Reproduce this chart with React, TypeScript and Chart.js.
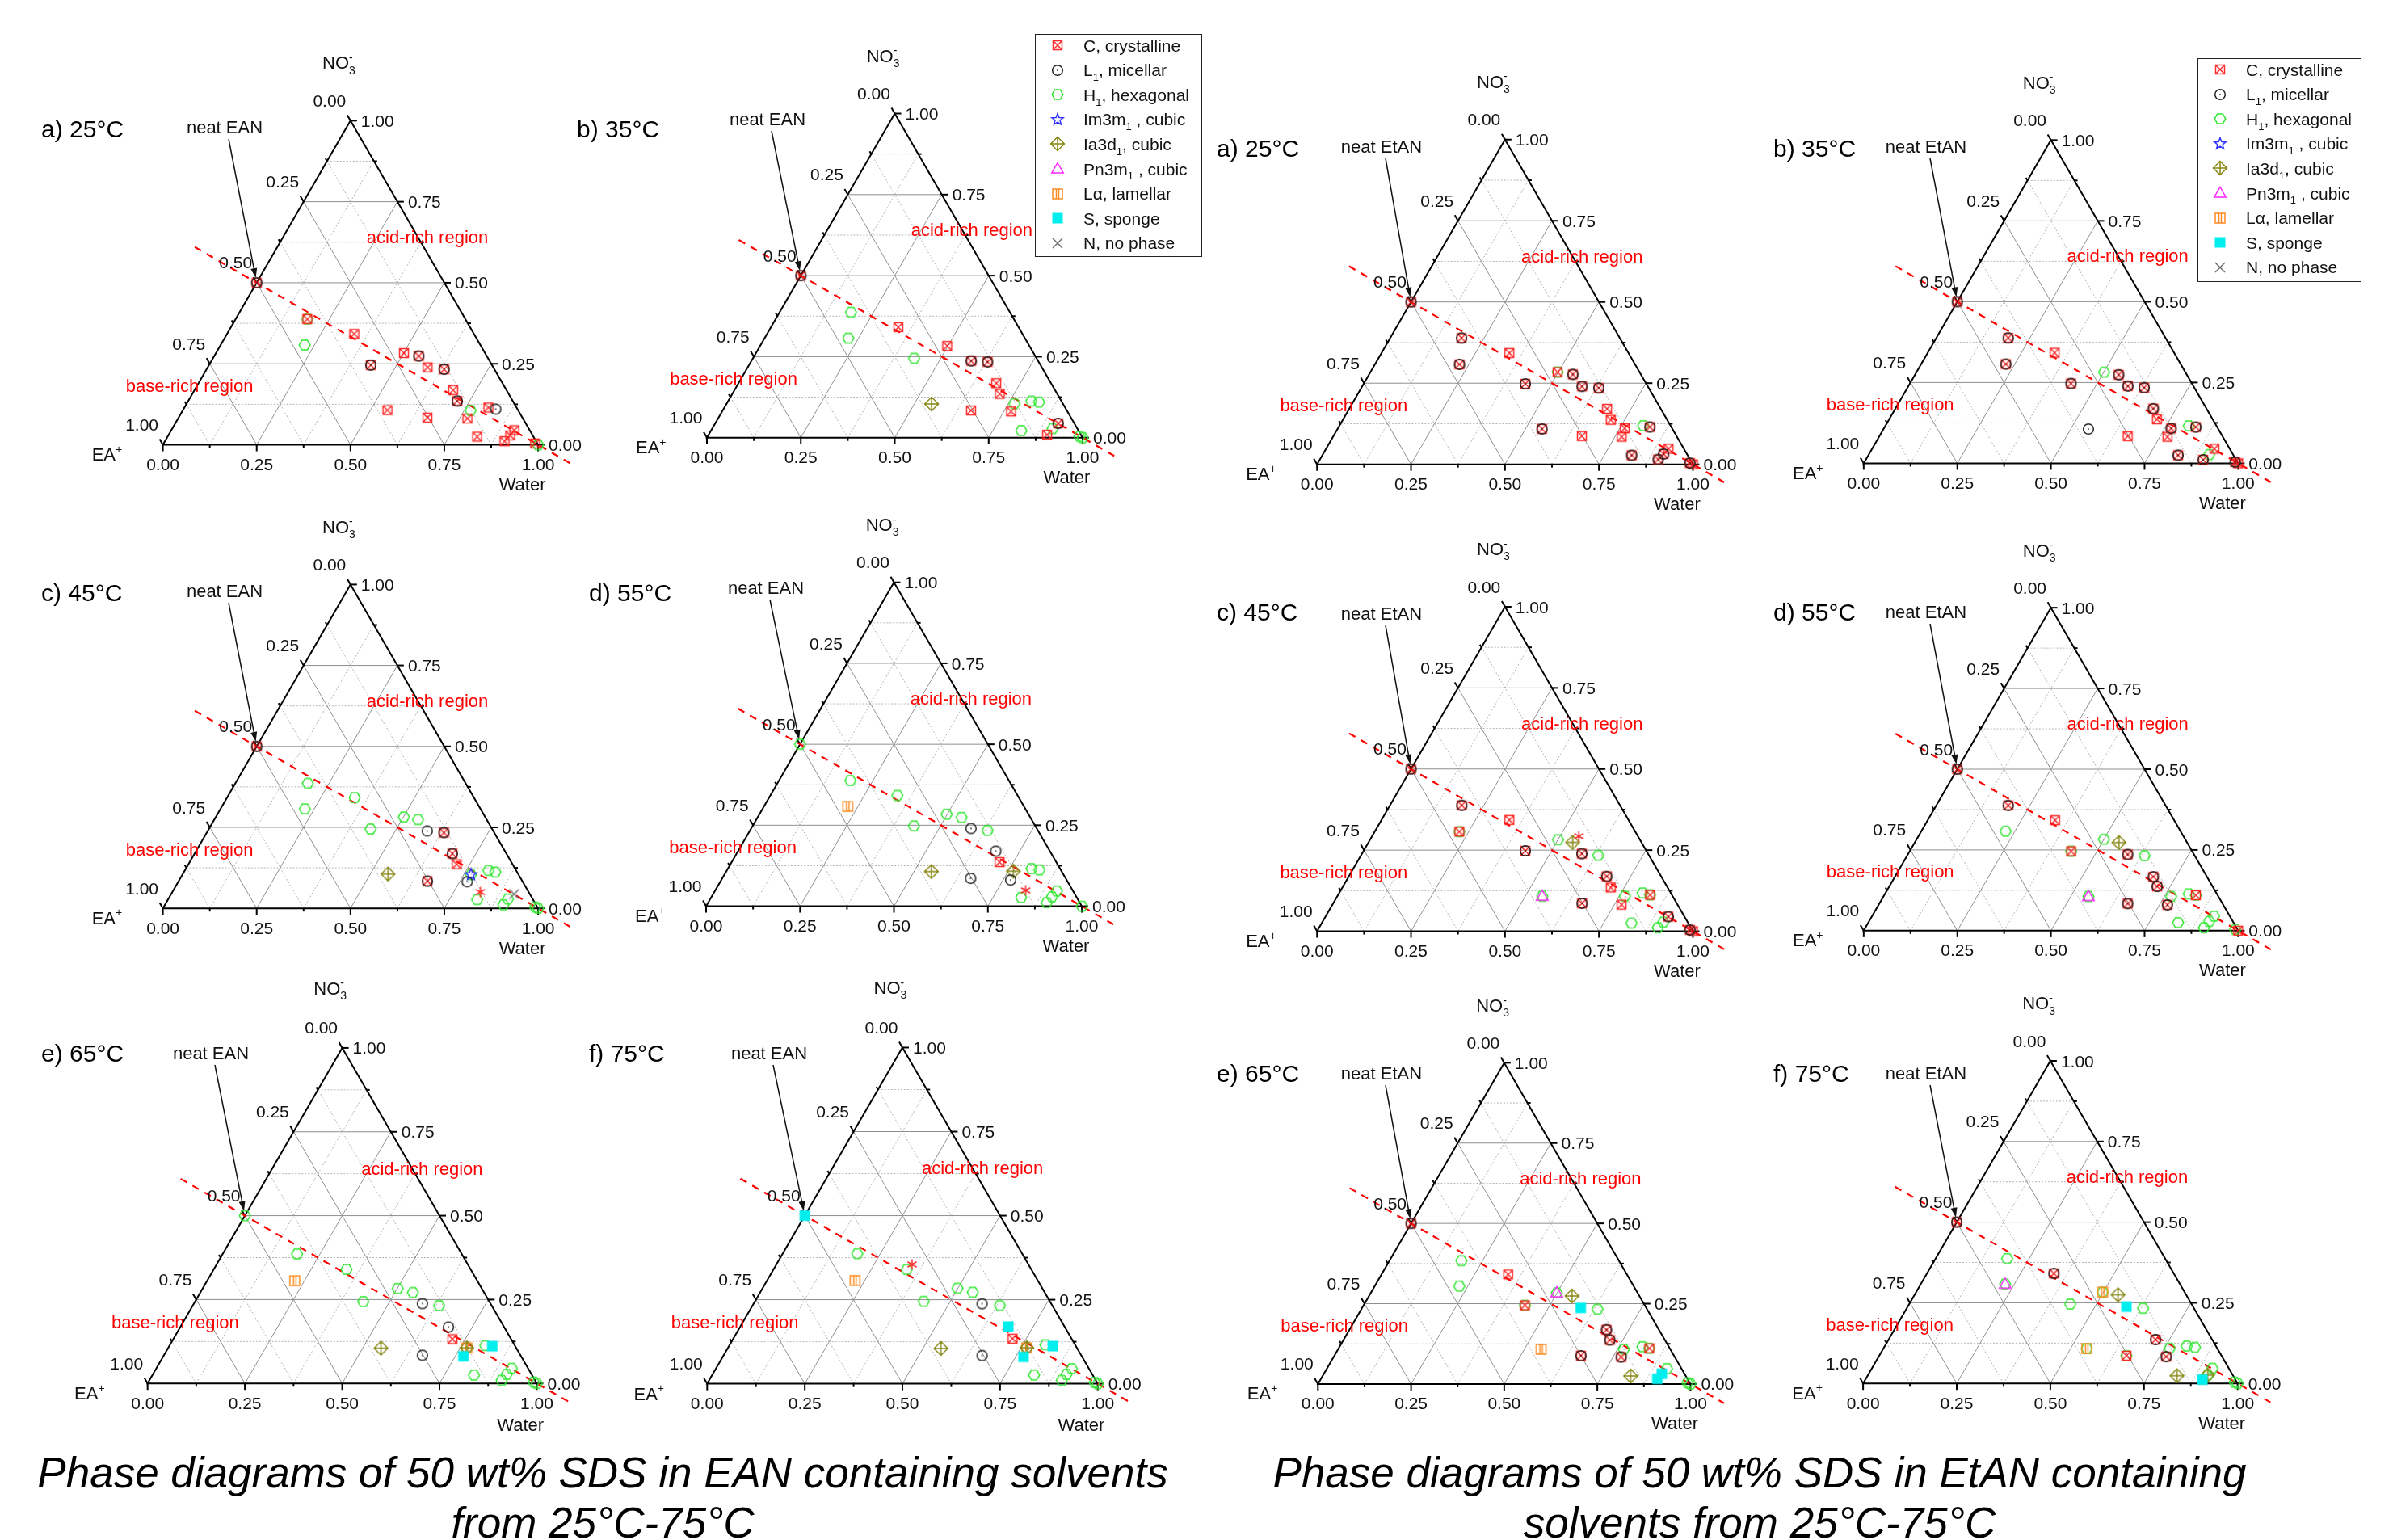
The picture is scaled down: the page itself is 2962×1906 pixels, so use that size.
import React, { useEffect, useRef } from "react";
import { Chart, registerables } from "chart.js";
Chart.register(...registerables);

// [phases present, water fraction, NO3- fraction]; EA+ = 1 - water - NO3-
// C crystalline, L L1 micellar, H H1 hexagonal, I Im3m1, D Ia3d1, P Pn3m1, A L-alpha, S sponge, N no phase, X asterisk
type Pt = [string, number, number];

const EAN_25: Pt[] = [
  ["CL", 0, 0.5], ["CH", 0.191, 0.388], ["H", 0.224, 0.308], ["C", 0.339, 0.342], ["CL", 0.431, 0.246],
  ["C", 0.501, 0.283], ["CL", 0.545, 0.274], ["C", 0.586, 0.239], ["CL", 0.633, 0.233], ["C", 0.689, 0.169],
  ["CL", 0.717, 0.135], ["C", 0.545, 0.107], ["C", 0.663, 0.084], ["H", 0.767, 0.106], ["C", 0.771, 0.081],
  ["C", 0.81, 0.115], ["L", 0.832, 0.11], ["C", 0.825, 0.025], ["C", 0.914, 0.045], ["C", 0.911, 0.029],
  ["C", 0.905, 0.011], ["C", 0.99, 0.004], ["H", 1.0, 0.0],
];
const EAN_35: Pt[] = [
  ["CL", 0, 0.5], ["H", 0.19, 0.387], ["H", 0.223, 0.307], ["C", 0.339, 0.341], ["C", 0.498, 0.283],
  ["H", 0.429, 0.245], ["CL", 0.585, 0.237], ["CL", 0.63, 0.234], ["C", 0.686, 0.168], ["C", 0.712, 0.135],
  ["D", 0.546, 0.104], ["C", 0.661, 0.084], ["H", 0.766, 0.105], ["C", 0.769, 0.081], ["H", 0.807, 0.113],
  ["H", 0.829, 0.11], ["H", 0.826, 0.022], ["CL", 0.913, 0.044], ["H", 0.906, 0.028], ["C", 0.901, 0.009],
  ["H", 0.99, 0.004], ["H", 1.0, 0.0],
];
const EAN_45: Pt[] = [
  ["CL", 0, 0.5], ["H", 0.193, 0.386], ["H", 0.225, 0.307], ["H", 0.34, 0.342], ["H", 0.431, 0.245],
  ["H", 0.501, 0.282], ["H", 0.543, 0.274], ["L", 0.585, 0.239], ["CL", 0.632, 0.234], ["CL", 0.687, 0.169],
  ["C", 0.715, 0.136], ["D", 0.547, 0.106], ["CL", 0.663, 0.084], ["IH", 0.769, 0.104], ["L", 0.77, 0.082],
  ["X", 0.821, 0.05], ["H", 0.824, 0.027], ["H", 0.809, 0.117], ["H", 0.83, 0.112], ["N", 0.914, 0.044],
  ["H", 0.905, 0.029], ["H", 0.902, 0.011], ["H", 0.99, 0.004], ["H", 1.0, 0.0],
];
const EAN_55: Pt[] = [
  ["H", 0, 0.5], ["H", 0.19, 0.388], ["A", 0.223, 0.308], ["H", 0.338, 0.342], ["H", 0.429, 0.248],
  ["H", 0.498, 0.284], ["H", 0.543, 0.274], ["L", 0.585, 0.24], ["H", 0.632, 0.234], ["L", 0.686, 0.17],
  ["C", 0.713, 0.136], ["D", 0.546, 0.107], ["L", 0.661, 0.086], ["D", 0.764, 0.108], ["L", 0.77, 0.081],
  ["X", 0.826, 0.049], ["H", 0.825, 0.027], ["H", 0.808, 0.116], ["H", 0.831, 0.112], ["H", 0.91, 0.047],
  ["H", 0.906, 0.029], ["H", 0.901, 0.011], ["H", 1.0, 0.0],
];
const EAN_65: Pt[] = [
  ["H", 0, 0.5], ["H", 0.191, 0.386], ["A", 0.225, 0.306], ["H", 0.341, 0.34], ["H", 0.432, 0.244],
  ["H", 0.501, 0.283], ["H", 0.546, 0.271], ["L", 0.587, 0.238], ["H", 0.633, 0.232], ["L", 0.689, 0.168],
  ["C", 0.717, 0.132], ["D", 0.547, 0.105], ["L", 0.664, 0.084], ["AD", 0.767, 0.106], ["S", 0.771, 0.081],
  ["H", 0.811, 0.113], ["S", 0.83, 0.111], ["H", 0.826, 0.025], ["H", 0.913, 0.045], ["H", 0.909, 0.027],
  ["H", 0.905, 0.009], ["H", 0.99, 0.004], ["H", 1.0, 0.0],
];
const EAN_75: Pt[] = [
  ["S", 0, 0.5], ["H", 0.191, 0.387], ["A", 0.225, 0.307], ["H", 0.341, 0.34], ["X", 0.347, 0.355],
  ["H", 0.432, 0.245], ["H", 0.499, 0.284], ["H", 0.544, 0.272], ["L", 0.585, 0.238], ["H", 0.633, 0.233],
  ["S", 0.686, 0.17], ["C", 0.715, 0.134], ["D", 0.546, 0.105], ["L", 0.662, 0.084], ["AD", 0.765, 0.107],
  ["S", 0.77, 0.08], ["H", 0.808, 0.116], ["S", 0.829, 0.112], ["H", 0.824, 0.026], ["H", 0.911, 0.045],
  ["H", 0.906, 0.028], ["H", 0.903, 0.01], ["H", 0.99, 0.004], ["H", 1.0, 0.0],
];
const EtAN_25: Pt[] = [
  ["CL", 0, 0.5], ["CL", 0.19, 0.389], ["CL", 0.225, 0.308], ["C", 0.34, 0.343], ["CH", 0.498, 0.284],
  ["CL", 0.542, 0.277], ["CL", 0.43, 0.248], ["CL", 0.585, 0.24], ["CL", 0.632, 0.235], ["C", 0.686, 0.171],
  ["C", 0.713, 0.137], ["CL", 0.544, 0.109], ["C", 0.661, 0.087], ["C", 0.763, 0.111], ["C", 0.768, 0.085],
  ["H", 0.808, 0.119], ["CL", 0.828, 0.115], ["CL", 0.823, 0.028], ["C", 0.911, 0.048], ["CL", 0.906, 0.032],
  ["CL", 0.9, 0.015], ["CL", 0.99, 0.004], ["C", 1.0, 0.0],
];
const EtAN_35: Pt[] = [
  ["CL", 0, 0.5], ["CL", 0.192, 0.388], ["CL", 0.226, 0.307], ["C", 0.339, 0.342], ["H", 0.501, 0.282],
  ["CL", 0.544, 0.274], ["CL", 0.43, 0.247], ["CL", 0.586, 0.239], ["CL", 0.632, 0.234], ["CL", 0.689, 0.169],
  ["C", 0.715, 0.136], ["L", 0.547, 0.106], ["C", 0.663, 0.084], ["CL", 0.767, 0.108], ["C", 0.77, 0.082],
  ["H", 0.81, 0.116], ["CL", 0.831, 0.112], ["CL", 0.827, 0.025], ["C", 0.914, 0.045], ["H", 0.909, 0.027],
  ["CL", 0.901, 0.011], ["CL", 0.99, 0.004], ["C", 1.0, 0.0],
];
const EtAN_45: Pt[] = [
  ["CL", 0, 0.5], ["CL", 0.191, 0.388], ["CH", 0.225, 0.307], ["C", 0.34, 0.343], ["H", 0.5, 0.282],
  ["D", 0.543, 0.274], ["X", 0.55, 0.293], ["CL", 0.43, 0.248], ["CL", 0.585, 0.239], ["H", 0.631, 0.234],
  ["CL", 0.686, 0.169], ["C", 0.714, 0.135], ["PH", 0.545, 0.108], ["CL", 0.662, 0.086], ["H", 0.765, 0.108],
  ["C", 0.769, 0.082], ["H", 0.807, 0.118], ["CH", 0.83, 0.112], ["H", 0.824, 0.025], ["CL", 0.912, 0.045],
  ["H", 0.907, 0.028], ["H", 0.901, 0.011], ["CL", 0.99, 0.004], ["C", 1.0, 0.0],
];
const EtAN_55: Pt[] = [
  ["CL", 0, 0.5], ["CL", 0.192, 0.388], ["H", 0.225, 0.308], ["C", 0.34, 0.342], ["H", 0.5, 0.283],
  ["D", 0.545, 0.273], ["CH", 0.431, 0.246], ["CL", 0.587, 0.236], ["H", 0.634, 0.232], ["CL", 0.69, 0.167],
  ["CL", 0.715, 0.137], ["PH", 0.547, 0.106], ["CL", 0.663, 0.084], ["H", 0.768, 0.106], ["CL", 0.771, 0.08],
  ["H", 0.811, 0.114], ["CH", 0.832, 0.11], ["H", 0.827, 0.025], ["H", 0.913, 0.045], ["H", 0.908, 0.029],
  ["H", 0.904, 0.009], ["H", 0.99, 0.004], ["C", 1.0, 0.0],
];
const EtAN_65: Pt[] = [
  ["CL", 0, 0.5], ["H", 0.193, 0.384], ["H", 0.227, 0.305], ["C", 0.34, 0.341], ["PH", 0.499, 0.284],
  ["D", 0.545, 0.274], ["CH", 0.433, 0.245], ["S", 0.587, 0.237], ["H", 0.634, 0.233], ["CL", 0.69, 0.169],
  ["CL", 0.715, 0.137], ["A", 0.545, 0.108], ["CL", 0.662, 0.088], ["H", 0.767, 0.108], ["CL", 0.772, 0.084],
  ["H", 0.813, 0.116], ["CH", 0.834, 0.111], ["D", 0.827, 0.025], ["H", 0.913, 0.048], ["S", 0.907, 0.032],
  ["S", 0.903, 0.016], ["H", 0.99, 0.004], ["H", 1.0, 0.0],
];
const EtAN_75: Pt[] = [
  ["CL", 0, 0.5], ["H", 0.191, 0.387], ["PH", 0.225, 0.308], ["CL", 0.339, 0.341], ["AH", 0.498, 0.283],
  ["D", 0.543, 0.275], ["H", 0.43, 0.246], ["S", 0.584, 0.238], ["H", 0.631, 0.233], ["CL", 0.713, 0.136],
  ["AH", 0.543, 0.108], ["CH", 0.66, 0.086], ["H", 0.764, 0.109], ["CL", 0.768, 0.083], ["H", 0.806, 0.116],
  ["H", 0.83, 0.112], ["D", 0.826, 0.024], ["H", 0.909, 0.047], ["DH", 0.907, 0.026], ["S", 0.9, 0.012],
  ["H", 0.99, 0.004], ["H", 1.0, 0.0],
];

// water / NO3- composition of the dilution line from neat ionic liquid to water (extended)
const DILUTION_LINE: [number, number][] = [[-0.22, 0.61], [1.12, -0.06]];
const TICK_STEPS = [0, 1, 2, 3, 4, 5, 6, 7, 8];
const TICK_LABELS: Record<number, string> = { 0: "0.00", 2: "0.25", 4: "0.50", 6: "0.75", 8: "1.00" };
const LEGEND_CODES = ["C", "L", "H", "I", "D", "P", "A", "S", "N"];
const LEGEND_TEXT = [
  "C, crystalline", "L_1, micellar", "H_1, hexagonal", "Im3m_1 , cubic", "Ia3d_1, cubic",
  "Pn3m_1 , cubic", "Lα, lamellar", "S, sponge", "N, no phase",
];
const DRAW_ORDER = ["X", "N", "L", "C", "S", "I", "P", "D", "A", "H"];

const FONT = '"Liberation Sans", Arial, Helvetica, sans-serif';
const SQ3 = Math.sqrt(3) / 2;

type Panel = {
  id: string; data: Pt[]; title: string; neat: string;
  rect: [number, number, number, number];
  tri: [number, number, number];
  titleAt: [number, number]; neatAt: [number, number];
  legend?: [number, number, number, number];
};

const PANELS: Panel[] = [
  { id: "LA", data: EAN_25, title: "a) 25°C", neat: "neat EAN", rect: [0, 0, 750, 660], tri: [198.3, 555.3, 473.3], titleAt: [51, 159], neatAt: [278, 157] },
  { id: "LB", data: EAN_35, title: "b) 35°C", neat: "neat EAN", rect: [700, 0, 800, 660], tri: [871, 546.3, 473.3], titleAt: [714, 159], neatAt: [950, 147], legend: [1281, 42, 206, 275] },
  { id: "LC", data: EAN_45, title: "c) 45°C", neat: "neat EAN", rect: [0, 610, 750, 630], tri: [198.3, 1128.7, 473.3], titleAt: [51, 733], neatAt: [278, 731] },
  { id: "LD", data: EAN_55, title: "d) 55°C", neat: "neat EAN", rect: [700, 610, 800, 630], tri: [870, 1126, 473.3], titleAt: [729, 733], neatAt: [948, 727] },
  { id: "LE", data: EAN_65, title: "e) 65°C", neat: "neat EAN", rect: [0, 1200, 750, 600], tri: [179, 1717.3, 491], titleAt: [51, 1303], neatAt: [261, 1303] },
  { id: "LF", data: EAN_75, title: "f) 75°C", neat: "neat EAN", rect: [700, 1200, 800, 600], tri: [871.3, 1717.7, 492], titleAt: [729, 1303], neatAt: [952, 1303] },
  { id: "RA", data: EtAN_25, title: "a) 25°C", neat: "neat EtAN", rect: [1490, 0, 740, 660], tri: [1625.8, 580, 474.2], titleAt: [1506, 183], neatAt: [1710, 181] },
  { id: "RB", data: EtAN_35, title: "b) 35°C", neat: "neat EtAN", rect: [2180, 0, 782, 660], tri: [2302, 578.7, 472], titleAt: [2195, 183], neatAt: [2384, 181], legend: [2720, 72, 202, 276] },
  { id: "RC", data: EtAN_45, title: "c) 45°C", neat: "neat EtAN", rect: [1490, 610, 740, 630], tri: [1625.8, 1157.7, 474.2], titleAt: [1506, 757], neatAt: [1710, 759] },
  { id: "RD", data: EtAN_55, title: "d) 55°C", neat: "neat EtAN", rect: [2180, 610, 782, 630], tri: [2302, 1157, 472], titleAt: [2195, 757], neatAt: [2384, 757] },
  { id: "RE", data: EtAN_65, title: "e) 65°C", neat: "neat EtAN", rect: [1490, 1200, 740, 600], tri: [1626.9, 1718, 470], titleAt: [1506, 1328], neatAt: [1710, 1328] },
  { id: "RF", data: EtAN_75, title: "f) 75°C", neat: "neat EtAN", rect: [2180, 1200, 782, 600], tri: [2301.3, 1717.3, 472], titleAt: [2195, 1328], neatAt: [2384, 1328] },
];

const markerCache: Record<string, HTMLCanvasElement> = {};
function marker(code: string): HTMLCanvasElement {
  if (markerCache[code]) return markerCache[code];
  const s = 28;
  const c = document.createElement("canvas");
  c.width = s; c.height = s;
  const g = c.getContext("2d")!;
  g.translate(s / 2, s / 2);
  g.lineWidth = 1.5;
  g.beginPath();
  switch (code) {
    case "C": {
      const h = 5.5;
      g.strokeStyle = "rgba(255,25,25,0.92)";
      g.rect(-h, -h, 2 * h, 2 * h);
      g.moveTo(-h, -h); g.lineTo(h, h); g.moveTo(h, -h); g.lineTo(-h, h);
      g.stroke();
      break;
    }
    case "L": {
      g.strokeStyle = "#222";
      g.arc(0, 0, 6.3, 0, Math.PI * 2);
      g.stroke();
      g.fillStyle = "#222";
      g.fillRect(-0.8, -0.8, 1.6, 1.6);
      break;
    }
    case "H": {
      g.strokeStyle = "#2ee62e";
      const r = 6.8;
      for (let k = 0; k < 6; k++) {
        const a = (k * Math.PI) / 3;
        if (k === 0) g.moveTo(r * Math.cos(a), r * Math.sin(a));
        else g.lineTo(r * Math.cos(a), r * Math.sin(a));
      }
      g.closePath();
      g.stroke();
      break;
    }
    case "I": {
      g.strokeStyle = "#3333ff";
      for (let k = 0; k < 10; k++) {
        const a = -Math.PI / 2 + (k * Math.PI) / 5;
        const r = k % 2 === 0 ? 7.5 : 3.2;
        if (k === 0) g.moveTo(r * Math.cos(a), r * Math.sin(a));
        else g.lineTo(r * Math.cos(a), r * Math.sin(a));
      }
      g.closePath();
      g.stroke();
      break;
    }
    case "D": {
      g.strokeStyle = "#878714";
      const r = 8.5;
      g.moveTo(0, -r); g.lineTo(r, 0); g.lineTo(0, r); g.lineTo(-r, 0); g.closePath();
      g.moveTo(0, -r); g.lineTo(0, r); g.moveTo(-r, 0); g.lineTo(r, 0);
      g.stroke();
      break;
    }
    case "P": {
      g.strokeStyle = "#ff22ff";
      g.moveTo(0, -7.5); g.lineTo(7.2, 5); g.lineTo(-7.2, 5); g.closePath();
      g.stroke();
      break;
    }
    case "A": {
      g.strokeStyle = "#ff8a1f";
      const h = 6;
      g.rect(-h, -h, 2 * h, 2 * h);
      g.moveTo(-1.5, -h); g.lineTo(-1.5, h); g.moveTo(1.5, -h); g.lineTo(1.5, h);
      g.stroke();
      break;
    }
    case "S": {
      g.fillStyle = "#00eeee";
      g.fillRect(-6.5, -6.5, 13, 13);
      break;
    }
    case "N": {
      g.strokeStyle = "#6e6e6e";
      const h = 6;
      g.moveTo(-h, -h); g.lineTo(h, h); g.moveTo(h, -h); g.lineTo(-h, h);
      g.stroke();
      break;
    }
    case "X": {
      g.strokeStyle = "#ff2a2a";
      for (let k = 0; k < 3; k++) {
        const a = Math.PI / 2 + (k * Math.PI) / 3;
        g.moveTo(6.5 * Math.cos(a), 6.5 * Math.sin(a));
        g.lineTo(-6.5 * Math.cos(a), -6.5 * Math.sin(a));
      }
      g.stroke();
      break;
    }
  }
  markerCache[code] = c;
  return c;
}

function drawRich(ctx: CanvasRenderingContext2D, text: string, x: number, y: number, size: number, align: string, color: string) {
  const toks: { t: string; k: string }[] = [];
  let i = 0;
  while (i < text.length) {
    const ch = text[i];
    if ((ch === "_" || ch === "^") && i + 1 < text.length) {
      toks.push({ t: text[i + 1], k: ch === "_" ? "sub" : "sup" });
      i += 2;
    } else {
      let j = i;
      while (j < text.length && text[j] !== "_" && text[j] !== "^") j++;
      toks.push({ t: text.slice(i, j), k: "n" });
      i = j;
    }
  }
  const small = Math.round(size * 0.64);
  const pos: number[] = [];
  let cx = 0, lastStart = 0, prevK = "n";
  for (const tk of toks) {
    ctx.font = `${tk.k === "n" ? size : small}px ${FONT}`;
    const w = ctx.measureText(tk.t).width;
    if (tk.k !== "n" && prevK !== "n" && prevK !== tk.k) {
      pos.push(lastStart);
      cx = Math.max(cx, lastStart + w);
    } else {
      pos.push(cx);
      lastStart = cx;
      cx += w;
    }
    prevK = tk.k;
  }
  const x0 = align === "left" ? x : align === "center" ? x - cx / 2 : x - cx;
  const base = y + size * 0.36;
  ctx.fillStyle = color;
  ctx.textAlign = "left";
  ctx.textBaseline = "alphabetic";
  toks.forEach((tk, k) => {
    ctx.font = `${tk.k === "n" ? size : small}px ${FONT}`;
    const dy = tk.k === "sub" ? size * 0.28 : tk.k === "sup" ? -size * 0.42 : 0;
    ctx.fillText(tk.t, x0 + pos[k], base + dy);
  });
}

function makePlugin(p: Panel) {
  const [left, top] = p.rect;
  const tern = (chart: any) => {
    const sx = chart.scales.x, sy = chart.scales.y;
    return {
      P: (w: number, n: number): [number, number] => [sx.getPixelForValue(w + n / 2), sy.getPixelForValue(n * SQ3)],
      C: (cx: number, cy: number): [number, number] => [sx.getPixelForValue(cx), sy.getPixelForValue(cy)],
    };
  };
  const seg = (ctx: CanvasRenderingContext2D, a: [number, number], b: [number, number]) => {
    ctx.beginPath(); ctx.moveTo(a[0], a[1]); ctx.lineTo(b[0], b[1]); ctx.stroke();
  };
  return {
    id: "ternary" + p.id,
    beforeDatasetsDraw(chart: any) {
      const ctx: CanvasRenderingContext2D = chart.ctx;
      const { P } = tern(chart);
      ctx.save();
      for (let k = 1; k < 8; k++) {
        const v = k / 8;
        const major = k % 2 === 0;
        ctx.strokeStyle = major ? "#8e8e8e" : "#b4b4b4";
        ctx.lineWidth = 1;
        ctx.setLineDash(major ? [] : [2, 2]);
        seg(ctx, P(0, v), P(1 - v, v));
        seg(ctx, P(v, 0), P(v, 1 - v));
        seg(ctx, P(1 - v, 0), P(0, 1 - v));
      }
      ctx.setLineDash([]);
      ctx.strokeStyle = "#000";
      ctx.lineWidth = 2;
      const a = P(0, 0), b = P(1, 0), c = P(0, 1);
      ctx.beginPath(); ctx.moveTo(a[0], a[1]); ctx.lineTo(b[0], b[1]); ctx.lineTo(c[0], c[1]); ctx.closePath(); ctx.stroke();
      for (const k of TICK_STEPS) {
        const v = k / 8;
        const len = k % 2 === 0 ? 8 : 4;
        const bt = P(v, 0);
        seg(ctx, bt, [bt[0], bt[1] + len]);
        const rt = P(1 - v, v);
        seg(ctx, rt, [rt[0] + len, rt[1]]);
        const lt = P(0, 1 - v);
        seg(ctx, lt, [lt[0] - len * 0.5, lt[1] - len * SQ3]);
      }
      ctx.restore();
    },
    afterDatasetsDraw(chart: any) {
      const ctx: CanvasRenderingContext2D = chart.ctx;
      const { P, C } = tern(chart);
      ctx.save();
      for (const k of TICK_STEPS) {
        const lab = TICK_LABELS[k];
        if (!lab) continue;
        const v = k / 8;
        const bt = P(v, 0);
        drawRich(ctx, lab, bt[0], bt[1] + 24, 21, "center", "#111");
        const rt = P(1 - v, v);
        drawRich(ctx, lab, rt[0] + 13, rt[1], 21, "left", "#111");
        const lt = P(0, 1 - v);
        drawRich(ctx, lab, lt[0] - 26, lt[1] - 25, 21, "center", "#111");
      }
      const no3 = C(0.469, 1.021);
      drawRich(ctx, "NO_3^-", no3[0], no3[1], 22, "center", "#111");
      const ea = C(-0.149, -0.025);
      drawRich(ctx, "EA^+", ea[0], ea[1], 22, "center", "#111");
      const wt = C(0.958, -0.105);
      drawRich(ctx, "Water", wt[0], wt[1], 22, "center", "#111");
      const acid = C(0.705, 0.556);
      drawRich(ctx, "acid-rich region", acid[0], acid[1], 22, "center", "#ff0000");
      const base = C(0.071, 0.159);
      drawRich(ctx, "base-rich region", base[0], base[1], 22, "center", "#ff0000");
      drawRich(ctx, p.title, p.titleAt[0] - left, p.titleAt[1] - top, 30, "left", "#000");
      const nx = p.neatAt[0] - left, ny = p.neatAt[1] - top;
      drawRich(ctx, p.neat, nx, ny, 22, "center", "#111");
      // arrow from the label to the neat ionic liquid composition
      const tip = P(0, 0.5);
      const sxp = nx + 5, syp = ny + 15;
      const dx = tip[0] - sxp, dy = tip[1] - syp;
      const L = Math.hypot(dx, dy);
      const ux = dx / L, uy = dy / L;
      const ex = tip[0] - ux * 6, ey = tip[1] - uy * 6;
      ctx.strokeStyle = "#111";
      ctx.lineWidth = 1.5;
      ctx.beginPath(); ctx.moveTo(sxp, syp); ctx.lineTo(ex - ux * 8, ey - uy * 8); ctx.stroke();
      ctx.fillStyle = "#111";
      ctx.beginPath();
      ctx.moveTo(ex, ey);
      ctx.lineTo(ex - ux * 12 - uy * 4, ey - uy * 12 + ux * 4);
      ctx.lineTo(ex - ux * 12 + uy * 4, ey - uy * 12 - ux * 4);
      ctx.closePath(); ctx.fill();
      if (p.legend) {
        const [lx, ly, lw, lh] = p.legend;
        const x0 = lx - left, y0 = ly - top;
        ctx.fillStyle = "#fff";
        ctx.fillRect(x0, y0, lw, lh);
        ctx.strokeStyle = "#222";
        ctx.lineWidth = 1;
        ctx.strokeRect(x0 + 0.5, y0 + 0.5, lw, lh);
        LEGEND_CODES.forEach((code, i) => {
          const ry = y0 + 14 + i * 30.6;
          const m = marker(code);
          ctx.drawImage(m, Math.round(x0 + 28 - m.width / 2), Math.round(ry - m.height / 2));
          drawRich(ctx, LEGEND_TEXT[i], x0 + 60, ry, 21, "left", "#111");
        });
      }
      ctx.restore();
    },
  };
}

function buildConfig(p: Panel): any {
  const [left, top, width, height] = p.rect;
  const [X0, baseY, B] = p.tri;
  const datasets: any[] = [];
  DRAW_ORDER.forEach((code, i) => {
    const pts = p.data.filter((d) => d[0].includes(code)).map((d) => ({ x: d[1] + d[2] / 2, y: d[2] * SQ3 }));
    if (!pts.length) return;
    datasets.push({
      label: code,
      data: pts,
      pointStyle: marker(code),
      pointRadius: 6,
      showLine: false,
      order: i,
    });
  });
  datasets.push({
    label: "dilution",
    data: DILUTION_LINE.map(([w, n]) => ({ x: w + n / 2, y: n * SQ3 })),
    showLine: true,
    borderColor: "#ff0000",
    borderWidth: 2.2,
    borderDash: [9, 8],
    pointRadius: 0,
    order: 100,
  });
  return {
    type: "scatter",
    data: { datasets },
    options: {
      animation: false,
      responsive: false,
      events: [],
      layout: { padding: 0 },
      plugins: { legend: { display: false }, tooltip: { enabled: false }, title: { display: false } },
      scales: {
        x: { type: "linear", display: false, min: (left - X0) / B, max: (left + width - X0) / B },
        y: { type: "linear", display: false, min: (baseY - (top + height)) / B, max: (baseY - top) / B },
      },
    },
    plugins: [makePlugin(p)],
  };
}

function TernaryPanel({ p }: { p: Panel }) {
  const ref = useRef<HTMLCanvasElement>(null);
  useEffect(() => {
    const chart = new Chart(ref.current as HTMLCanvasElement, buildConfig(p));
    return () => chart.destroy();
  }, [p]);
  const [left, top, width, height] = p.rect;
  return (
    <canvas
      ref={ref}
      width={width}
      height={height}
      style={{ position: "absolute", left, top, width, height }}
    />
  );
}

const captionStyle: React.CSSProperties = {
  position: "absolute",
  fontFamily: FONT,
  fontStyle: "italic",
  fontSize: 53,
  lineHeight: "62px",
  textAlign: "center",
  color: "#000",
  whiteSpace: "nowrap",
};

export default function App() {
  return (
    <div style={{ position: "absolute", left: 0, top: 0, width: 2962, height: 1906, background: "#fff", overflow: "hidden" }}>
      {PANELS.map((p) => (
        <TernaryPanel key={p.id} p={p} />
      ))}
      <div style={{ ...captionStyle, left: 46, width: 1400, top: 1792 }}>
        Phase diagrams of 50 wt% SDS in EAN containing solvents
        <br />
        from 25°C-75°C
      </div>
      <div style={{ ...captionStyle, left: 1478, width: 1400, top: 1792 }}>
        Phase diagrams of 50 wt% SDS in EtAN containing
        <br />
        solvents from 25°C-75°C
      </div>
    </div>
  );
}
